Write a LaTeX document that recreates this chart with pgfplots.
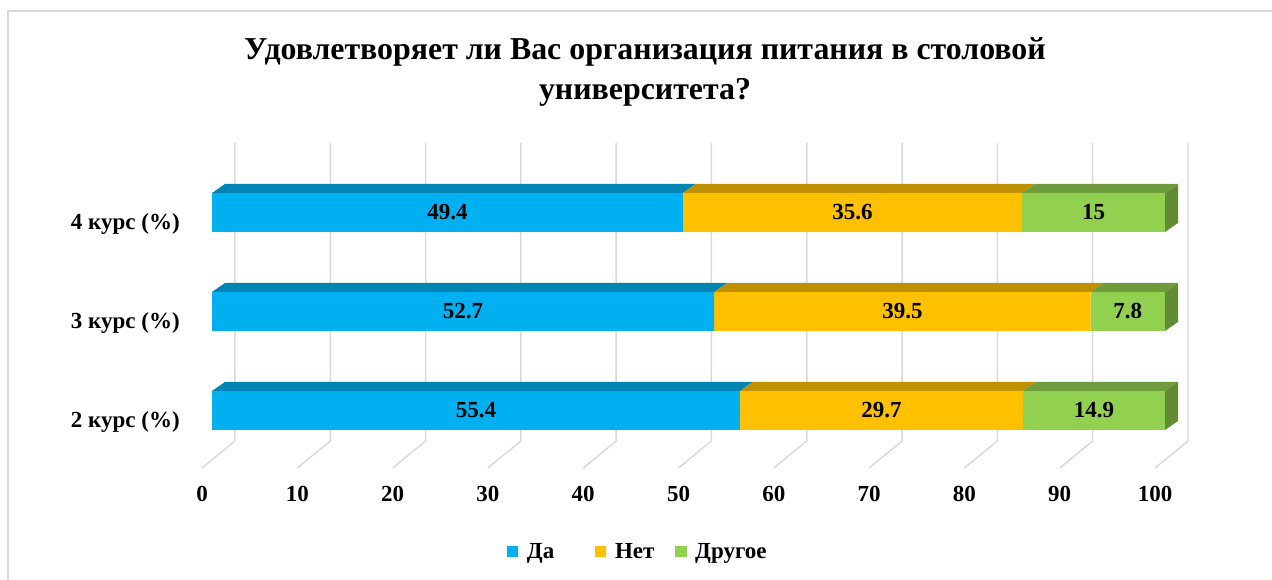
\documentclass[border=0pt]{standalone}
\usepackage{fontspec}
\setmainfont{Liberation Serif}
\usepackage{pgfplots}
\usepackage{pgfplotstable}
\pgfplotsset{compat=1.18}
\definecolor{cda}{RGB}{0,176,240}
\definecolor{cdatop}{RGB}{0,132,180}
\definecolor{cnet}{RGB}{255,192,0}
\definecolor{cnettop}{RGB}{191,144,0}
\definecolor{cdr}{RGB}{146,208,80}
\definecolor{cdrtop}{RGB}{110,156,60}
\definecolor{cdrside}{RGB}{98,140,52}
\definecolor{gridc}{RGB}{217,217,217}

\pgfplotstableread{
cat da net dr
0 55.4 29.7 14.9
1 52.7 39.5 7.8
2 49.4 35.6 15
}\datatable

\def\dx{1.364}\def\dy{0.091}\def\hh{0.197}
\newcommand\topface[4]{%
  \pgfmathsetmacro\ta{#1}\pgfmathsetmacro\tb{#1+\dx}%
  \pgfmathsetmacro\tc{#2+\dx}\pgfmathsetmacro\td{#2}%
  \pgfmathsetmacro\ya{#3+\hh}\pgfmathsetmacro\yb{#3+\hh+\dy}%
  \edef\tmp{\noexpand\addplot[fill=#4,draw=none,forget plot] coordinates {(\ta,\ya) (\tb,\yb) (\tc,\yb) (\td,\ya)} -- cycle;}\tmp}
\newcommand\rightface[2]{%
  \pgfmathsetmacro\tb{100+\dx}%
  \pgfmathsetmacro\ya{#1-\hh}\pgfmathsetmacro\yb{#1+\hh}%
  \pgfmathsetmacro\yc{#1+\hh+\dy}\pgfmathsetmacro\yd{#1-\hh+\dy}%
  \edef\tmp{\noexpand\addplot[fill=#2,draw=none,forget plot] coordinates {(100,\ya) (100,\yb) (\tb,\yc) (\tb,\yd)} -- cycle;}\tmp}

\newcommand\lab{\fontsize{17.25}{20}\selectfont\bfseries}
\pgfplotsset{
  base/.style={scale only axis, width=757.65pt, height=259.875pt,
    xmin=-2, xmax=104, ymin=-0.7, ymax=2.8,
    at={(144.705pt,75.15pt)}, anchor=south west, clip=false},
  sq/.style={legend image code/.code={\fill[##1] (0pt,-4.3pt) rectangle (8.6pt,4.3pt);}}
}

\begin{document}
\begin{tikzpicture}[x=0.75pt,y=0.75pt]
\path[use as bounding box] (0,0) rectangle (1272,580);
\draw[gridc, line width=1.1pt] (8,0) -- (8,569) -- (1272,569);
\node[font=\fontsize{23.9}{30}\selectfont\bfseries, anchor=base, inner sep=0pt] at (645,520) {Удовлетворяет ли Вас организация питания в столовой};
\node[font=\fontsize{23.9}{30}\selectfont\bfseries, anchor=base, inner sep=0pt] at (645,480) {университета?};

% background grid
\begin{axis}[base, hide axis]
\pgfplotsinvokeforeach{0,10,...,100}{
  \addplot[gridc, line width=1.1pt, mark=none, forget plot] table[row sep=\\, x expr=\thisrow{a}+#1, y=b]{a b\\ 2.41 2.702\\ 2.41 -0.308\\ -1.05 -0.581\\};
}
\end{axis}

% bars
\begin{axis}[base, xbar stacked, bar width=0.394,
  axis line style={draw=none}, tick style={draw=none},
  xtick={0,10,...,100}, ytick={0,1,2},
  yticklabels={2 курс (\%), 3 курс (\%), 4 курс (\%)},
  /pgf/number format/assume math mode=true,
  xticklabel style={anchor=base, xshift=-7.5pt, yshift=-16.65pt, inner sep=0pt, font=\lab},
  yticklabel style={anchor=base east, xshift=-9.7pt, yshift=-13.1pt, inner sep=0pt, font=\lab},
  legend style={at={(0.4406,-0.2070)}, anchor=center, draw=none, fill=none,
    legend columns=-1, font=\lab, inner sep=0pt,
    /tikz/every odd column/.append style={column sep=4.5pt},
    /tikz/every even column/.append style={column sep=0pt}},
  legend cell align=left]
\addplot[fill=cda, draw=none, sq] table[x=da, y=cat]{\datatable};
\addplot[fill=cnet, draw=none, sq] table[x=net, y=cat]{\datatable};
\addplot[fill=cdr, draw=none, sq] table[x=dr, y=cat]{\datatable};
\legend{\makebox[49pt][l]{Да}, \makebox[43pt][l]{Нет}, Другое}
\end{axis}

% 3D faces and labels
\begin{axis}[base, hide axis]
\topface{0}{55.4}{0}{cdatop}
\topface{55.4}{85.1}{0}{cnettop}
\topface{85.1}{100}{0}{cdrtop}
\topface{0}{52.7}{1}{cdatop}
\topface{52.7}{92.2}{1}{cnettop}
\topface{92.2}{100}{1}{cdrtop}
\topface{0}{49.4}{2}{cdatop}
\topface{49.4}{85}{2}{cnettop}
\topface{85}{100}{2}{cdrtop}
\rightface{0}{cdrside}
\rightface{1}{cdrside}
\rightface{2}{cdrside}
\addplot[draw=none, mark=none, nodes near coords, point meta=explicit symbolic,
  nodes near coords style={anchor=center, font=\lab, inner sep=0pt}]
  table[x expr=\thisrow{da}/2, y=cat, meta=da]{\datatable};
\addplot[draw=none, mark=none, nodes near coords, point meta=explicit symbolic,
  nodes near coords style={anchor=center, font=\lab, inner sep=0pt}]
  table[x expr=\thisrow{da}+\thisrow{net}/2, y=cat, meta=net]{\datatable};
\addplot[draw=none, mark=none, nodes near coords, point meta=explicit symbolic,
  nodes near coords style={anchor=center, font=\lab, inner sep=0pt}]
  table[x expr=\thisrow{da}+\thisrow{net}+\thisrow{dr}/2, y=cat, meta=dr]{\datatable};
\end{axis}
\end{tikzpicture}
\end{document}
